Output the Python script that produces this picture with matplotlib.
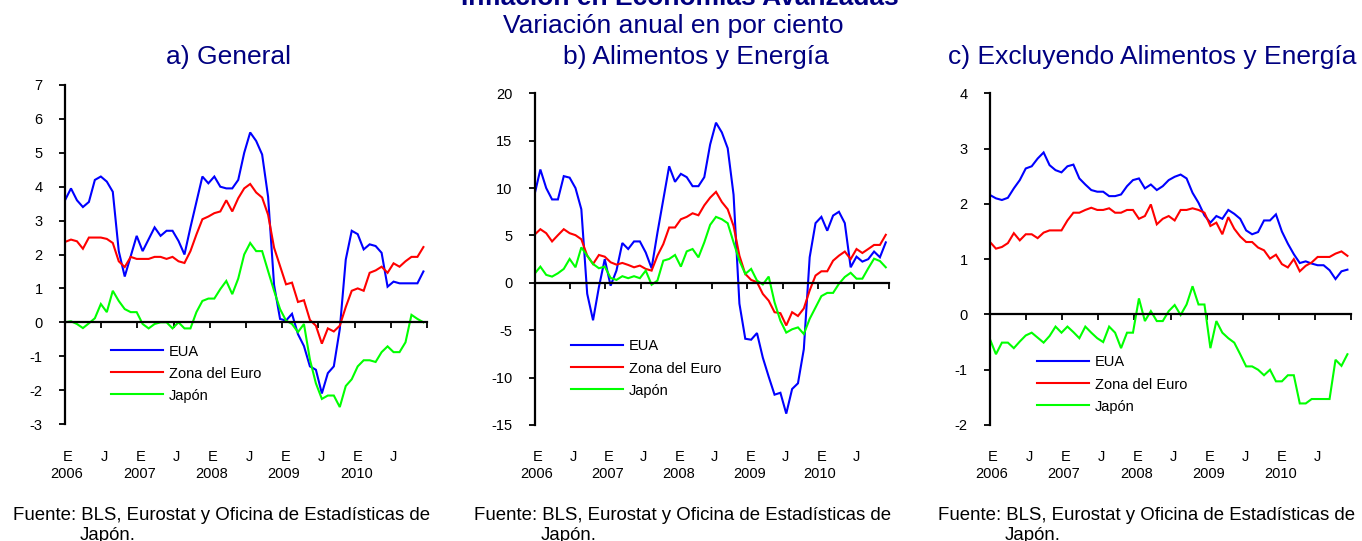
import numpy as np
import matplotlib
matplotlib.use("Agg")
import matplotlib.pyplot as plt
from matplotlib.transforms import blended_transform_factory

plt.rcParams['font.family'] = ['Liberation Sans', 'DejaVu Sans']
plt.rcParams['axes.unicode_minus'] = False  # guion normal en "-3"

# meses: dic 2005 ... dic 2010
meses = np.arange(61)

# a) General
eua_general = [3.6, 3.95, 3.6, 3.4, 3.55, 4.2, 4.3, 4.15, 3.85, 2.1,
               1.35, 1.95, 2.55, 2.1, 2.45, 2.8, 2.55, 2.7, 2.7, 2.4,
               2.0, 2.8, 3.55, 4.3, 4.1, 4.3, 4.0, 3.95, 3.95, 4.2,
               5.0, 5.6, 5.35, 4.95, 3.7, 1.1, 0.1, 0.05, 0.25, -0.35,
               -0.7, -1.3, -1.4, -2.1, -1.5, -1.3, -0.2, 1.85, 2.7, 2.6,
               2.15, 2.3, 2.25, 2.05, 1.05, 1.2, 1.15, 1.15, 1.15, 1.15, 1.5]
euro_general = [2.37, 2.44, 2.39, 2.17, 2.5, 2.5, 2.5, 2.46, 2.34, 1.8,
                1.63, 1.93, 1.87, 1.87, 1.87, 1.93, 1.93, 1.87, 1.93, 1.8,
                1.75, 2.1, 2.59, 3.04, 3.12, 3.22, 3.27, 3.6, 3.27, 3.66,
                3.95, 4.08, 3.83, 3.68, 3.17, 2.2, 1.66, 1.12, 1.17, 0.6,
                0.65, 0.07, -0.1, -0.63, -0.18, -0.27, -0.1, 0.45, 0.93, 1.0,
                0.93, 1.46, 1.53, 1.64, 1.46, 1.74, 1.64, 1.8, 1.93, 1.93, 2.22]
japon_general = [0.0, 0.03, -0.05, -0.17, -0.03, 0.12, 0.54, 0.3, 0.93, 0.63,
                 0.39, 0.3, 0.3, -0.05, -0.18, -0.05, 0.0, 0.0, -0.18, 0.0,
                 -0.18, -0.18, 0.3, 0.63, 0.7, 0.7, 0.98, 1.22, 0.83, 1.29,
                 2.0, 2.34, 2.1, 2.1, 1.51, 0.93, 0.39, 0.05, -0.05, -0.29,
                 -0.05, -1.1, -1.8, -2.26, -2.16, -2.16, -2.5, -1.88, -1.68, -1.3,
                 -1.12, -1.12, -1.17, -0.88, -0.71, -0.88, -0.88, -0.59, 0.22, 0.1, 0.0]

# b) Alimentos y Energía
eua_alim = [9.3, 11.96, 10.0, 8.8, 8.8, 11.26, 11.1, 10.0, 7.76, -1.15,
            -3.95, -0.45, 2.5, -0.3, 1.3, 4.2, 3.57, 4.37, 4.37, 3.2,
            1.54, 5.3, 8.8, 12.3, 10.66, 11.5, 11.15, 10.2, 10.2, 11.15,
            14.6, 16.9, 15.87, 14.2, 9.3, -2.2, -5.9, -6.0, -5.3, -7.9,
            -9.9, -11.8, -11.6, -13.8, -11.2, -10.6, -7.0, 2.7, 6.3, 6.96,
            5.5, 7.1, 7.5, 6.3, 1.64, 2.76, 2.24, 2.5, 3.3, 2.7, 4.27]
euro_alim = [5.07, 5.66, 5.24, 4.37, 5.03, 5.66, 5.24, 5.03, 4.6, 2.87,
             1.99, 2.94, 2.76, 2.17, 1.92, 2.1, 1.89, 1.64, 1.82, 1.47,
             1.29, 2.87, 4.09, 5.84, 5.84, 6.71, 6.96, 7.34, 7.13, 8.18,
             8.99, 9.6, 8.53, 7.76, 6.0, 2.87, 0.94, 0.31, 0.07, -1.17,
             -1.88, -3.1, -3.2, -4.5, -3.1, -3.5, -2.7, -0.8, 0.77, 1.22,
             1.22, 2.34, 2.87, 3.3, 2.5, 3.57, 3.15, 3.57, 4.0, 4.0, 5.07]
japon_alim = [0.94, 1.71, 0.84, 0.66, 1.01, 1.47, 2.52, 1.64, 3.74, 2.87,
              1.99, 1.54, 1.71, 0.52, 0.31, 0.7, 0.49, 0.7, 0.49, 1.29,
              -0.2, 0.24, 2.34, 2.52, 2.94, 1.71, 3.32, 3.57, 2.69, 4.27,
              6.12, 6.96, 6.71, 6.29, 4.27, 2.34, 0.94, 1.47, 0.24, -0.17,
              0.66, -2.05, -4.0, -5.25, -4.9, -4.7, -5.4, -3.8, -2.6, -1.4,
              -1.06, -1.06, -0.1, 0.62, 1.06, 0.44, 0.44, 1.53, 2.55, 2.3, 1.64]

# c) Excluyendo Alimentos y Energía
eua_subyac = [2.16, 2.1, 2.07, 2.11, 2.28, 2.43, 2.64, 2.68, 2.82, 2.93,
              2.7, 2.61, 2.57, 2.68, 2.71, 2.46, 2.35, 2.25, 2.22, 2.22,
              2.14, 2.14, 2.17, 2.32, 2.43, 2.46, 2.28, 2.35, 2.25, 2.32,
              2.43, 2.49, 2.53, 2.46, 2.2, 2.02, 1.79, 1.66, 1.78, 1.73,
              1.89, 1.82, 1.73, 1.52, 1.45, 1.49, 1.7, 1.7, 1.81, 1.5,
              1.28, 1.09, 0.93, 0.96, 0.92, 0.89, 0.89, 0.8, 0.64, 0.78, 0.81]
euro_subyac = [1.31, 1.19, 1.22, 1.29, 1.47, 1.34, 1.45, 1.45, 1.38, 1.48,
               1.52, 1.52, 1.52, 1.7, 1.84, 1.84, 1.89, 1.93, 1.89, 1.89,
               1.92, 1.84, 1.84, 1.89, 1.89, 1.73, 1.78, 1.99, 1.63, 1.73,
               1.78, 1.7, 1.89, 1.89, 1.92, 1.89, 1.84, 1.6, 1.66, 1.45,
               1.76, 1.55, 1.41, 1.31, 1.31, 1.21, 1.16, 1.01, 1.08, 0.91,
               0.85, 1.0, 0.78, 0.88, 0.94, 1.04, 1.04, 1.04, 1.1, 1.14, 1.06]
japon_subyac = [-0.45, -0.72, -0.51, -0.51, -0.61, -0.49, -0.38, -0.33, -0.42, -0.51,
                -0.39, -0.22, -0.33, -0.22, -0.32, -0.43, -0.22, -0.33, -0.43, -0.5,
                -0.22, -0.33, -0.61, -0.33, -0.33, 0.29, -0.12, 0.06, -0.12, -0.12,
                0.06, 0.17, -0.01, 0.18, 0.51, 0.18, 0.18, -0.61, -0.12, -0.33,
                -0.43, -0.51, -0.72, -0.94, -0.94, -1.0, -1.1, -1.0, -1.21, -1.21,
                -1.1, -1.1, -1.61, -1.61, -1.53, -1.53, -1.53, -1.53, -0.82, -0.93, -0.72]

etiquetas_mes = ["E", "J"] * 5
etiquetas_anio = ["2006", "2007", "2008", "2009", "2010"]
series = ["EUA", "Zona del Euro", "Japón"]
colores = ["#0000FF", "#FF0000", "#00FF00"]
azul = "#000080"

W, H = 1362, 541
fig = plt.figure(figsize=(W / 100, H / 100), dpi=100)

def caja(x0, y0, x1, y1):
    return [x0 / W, 1 - y1 / H, (x1 - x0) / W, (y1 - y0) / H]

paneles = [
    ("a) General", [eua_general, euro_general, japon_general],
     (-3, 7), 1, caja(65, 85, 427, 424), 228, (110.5, 344.5), 13),
    ("b) Alimentos y Energía", [eua_alim, euro_alim, japon_alim],
     (-15, 20), 5, caja(534.5, 93.3, 889.3, 425), 695.5, (570.5, 339.5), 474),
    ("c) Excluyendo Alimentos y Energía", [eua_subyac, euro_subyac, japon_subyac],
     (-2, 4), 1, caja(990, 93.3, 1351, 425), 1152.5, (1036.5, 355.5), 938),
]

fin = 60.6
for titulo, datos, ylim, paso, rect, xt, (lx, ly), xf in paneles:
    ax = fig.add_axes(rect)
    for d, nombre, c in zip(datos, series, colores):
        ax.plot(meses, d, color=c, lw=1.5, label=nombre, solid_joinstyle='miter')
    ax.set_xlim(0, fin)
    ax.set_ylim(*ylim)
    ax.set_yticks(np.arange(ylim[0], ylim[1] + paso, paso))
    ax.set_xticks(np.arange(1, 11) * 6.06)
    ax.set_xticklabels([])
    for s in ["top", "right"]:
        ax.spines[s].set_visible(False)
    ax.spines["bottom"].set_position(("data", 0))
    ax.spines["bottom"].set_linewidth(1.6)
    ax.spines["left"].set_linewidth(1.6)
    ax.tick_params(axis="y", direction="out", length=4, width=1.3, pad=12,
                   labelsize=10.5, colors="black")
    ax.tick_params(axis="x", direction="out", length=4, width=1.3)
    tr = blended_transform_factory(ax.transData, fig.transFigure)
    for k, et in enumerate(etiquetas_mes):
        ax.text(k * 6.06 + 0.5, 1 - 457 / H, et, transform=tr, ha="center",
                va="center", fontsize=10.5)
        if k % 2 == 0:
            ax.text(k * 6.06 + 0.3, 1 - 474 / H, etiquetas_anio[k // 2],
                    transform=tr, ha="center", va="center", fontsize=10.5)
    ax.legend(loc="upper left", bbox_to_anchor=(lx / W, 1 - ly / H),
              bbox_transform=fig.transFigure, frameon=False, fontsize=10.5,
              handlelength=3.6, handletextpad=0.4, labelspacing=0.55,
              borderpad=0, borderaxespad=0)
    fig.text(xt / W, 1 - 64 / H, titulo, ha="center", va="baseline",
             fontsize=19, color=azul)
    fig.text(xf / W, 1 - 515 / H, "Fuente: BLS, Eurostat y Oficina de Estadísticas de",
             ha="left", va="center", fontsize=13.4)
    fig.text((xf + 67) / W, 1 - 535 / H, "Japón.", ha="left", va="center",
             fontsize=13.4)

# el titulo principal queda cortado arriba, como en el original
fig.text(680 / W, 1 - 5 / H, "Inflación en Economías Avanzadas", ha="center",
         va="baseline", fontsize=19, fontweight="bold", color=azul)
fig.text(673 / W, 1 - 33 / H, "Variación anual en por ciento", ha="center",
         va="baseline", fontsize=19, color=azul)

fig.savefig("out.png", dpi=100)
